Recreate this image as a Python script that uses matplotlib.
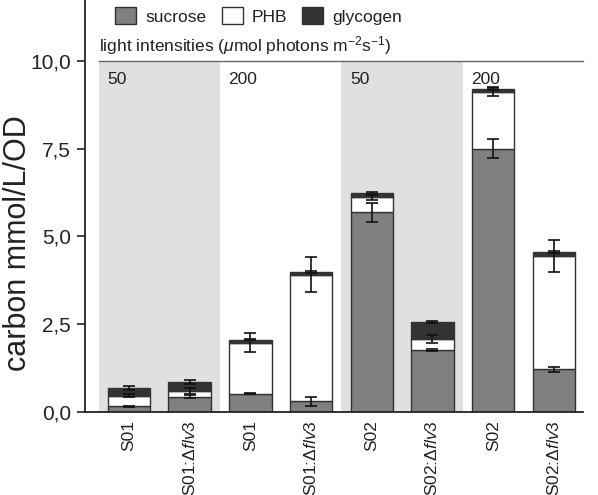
import matplotlib
matplotlib.use("Agg")
import matplotlib.pyplot as plt
import numpy as np
from matplotlib.patches import Patch

plt.rcParams['font.family'] = ['Liberation Sans', 'DejaVu Sans']
plt.rcParams['mathtext.fontset'] = 'custom'
plt.rcParams['mathtext.rm'] = 'Liberation Sans'
plt.rcParams['mathtext.it'] = 'Liberation Sans:italic'
plt.rcParams['mathtext.sf'] = 'Liberation Sans'

strains = ["S01", r"S01:$\Delta\mathit{flv3}$", "S01", r"S01:$\Delta\mathit{flv3}$",
           "S02", r"S02:$\Delta\mathit{flv3}$", "S02", r"S02:$\Delta\mathit{flv3}$"]
sucrose = [0.16, 0.43, 0.52, 0.30, 5.68, 1.76, 7.49, 1.21]
phb = [0.30, 0.16, 1.45, 3.61, 0.43, 0.31, 1.63, 3.23]
glycogen = [0.22, 0.26, 0.09, 0.07, 0.13, 0.49, 0.07, 0.11]
sucrose_err = [0.02, 0.05, 0.02, 0.12, 0.26, 0.02, 0.27, 0.08]
phb_err = [0.04, 0.09, 0.27, 0.50, 0.07, 0.12, 0.12, 0.46]
glycogen_err = [0.07, 0.07, 0.02, 0.02, 0.03, 0.02, 0.03, 0.02]
light_labels = ["50", "200", "50", "200"]
yticks = [0.0, 2.5, 5.0, 7.5, 10.0]

fig = plt.figure(figsize=(5.98, 4.95), dpi=100)
ax = fig.add_axes([0.142, 0.168, 0.833, 0.832])

x = np.arange(len(strains))
w = 0.7
s = np.array(sucrose); p = np.array(phb); g = np.array(glycogen)

# shading for 50 light intensity groups
for i, lab in enumerate(light_labels):
    x0 = 2 * i - 0.5
    if lab == "50":
        ax.fill_between([x0, x0 + 2], 0, 9.95, color='#e0e0e0', lw=0, zorder=0)
    ax.text(x0 + 0.14, 9.47, lab, fontsize=12.5, va='center', ha='left', color='#222222')

ec = '#333333'
ax.bar(x, s, w, color='#808080', edgecolor=ec, lw=1, zorder=2)
ax.bar(x, p, w, bottom=s, color='white', edgecolor=ec, lw=1, zorder=2)
ax.bar(x, g, w, bottom=s + p, color='#333333', edgecolor=ec, lw=1, zorder=2)

ekw = dict(fmt='none', ecolor='#111111', elinewidth=1.2, capsize=4, capthick=1.2, zorder=3)
ax.errorbar(x, s, yerr=sucrose_err, **ekw)
ax.errorbar(x, s + p, yerr=phb_err, **ekw)
ax.errorbar(x, s + p + g, yerr=glycogen_err, **ekw)

# header
ax.plot([-0.5, 7.48], [10.0, 10.0], color='#666666', lw=1, zorder=1, clip_on=False)
ax.text(-0.5, 10.42, r"light intensities ($\mu$mol photons m$^{-2}$s$^{-1}$)",
        fontsize=12.5, va='center', ha='left', color='#222222')

ax.set_xlim(-0.725, 7.48)
ax.set_ylim(0, 11.73)
ax.set_yticks(yticks)
ax.set_yticklabels([f"{v:.1f}".replace('.', ',') for v in yticks], fontsize=15, color='#222222')
ax.set_xticks(x)
ax.set_xticklabels(strains, rotation=90, fontsize=12.5, va='top', ha='center', color='#222222')
ax.tick_params(axis='x', length=0, pad=6)
ax.tick_params(axis='y', length=6, width=1.2, color='#222222', pad=4)
for sp in ['top', 'right']:
    ax.spines[sp].set_visible(False)
for sp in ['left', 'bottom']:
    ax.spines[sp].set_linewidth(1.3)
    ax.spines[sp].set_color('#222222')
ax.set_ylabel("carbon mmol/L/OD", fontsize=22, color='#222222')
ax.yaxis.set_label_coords(-0.104, 0.41)

handles = [Patch(facecolor='#808080', edgecolor=ec, label='sucrose'),
           Patch(facecolor='white', edgecolor=ec, label='PHB'),
           Patch(facecolor='#333333', edgecolor=ec, label='glycogen')]
leg = ax.legend(handles=handles, ncol=3, loc='upper left', bbox_to_anchor=(0.03, 1.02),
                frameon=False, fontsize=12.5, handlelength=1.2, handleheight=1.1,
                handletextpad=0.5, columnspacing=0.9)
for t in leg.get_texts():
    t.set_color('#222222')

fig.savefig("out.png", dpi=100)
